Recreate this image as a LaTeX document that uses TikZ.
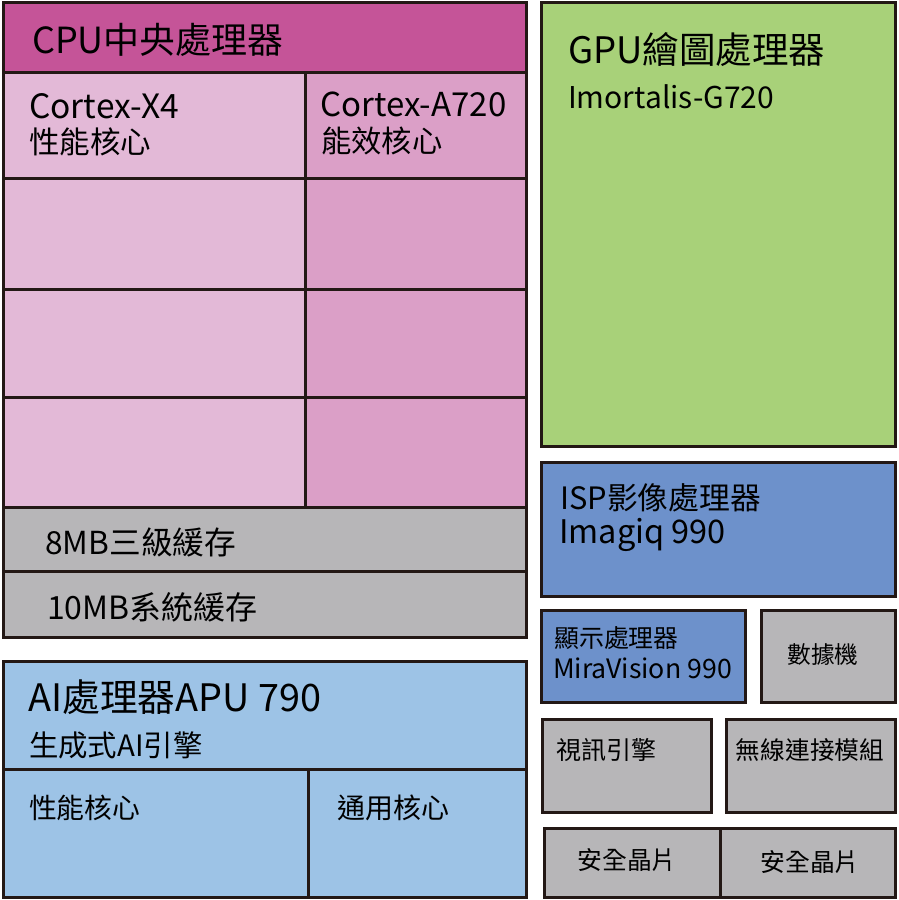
\documentclass[tikz,border=0pt]{standalone}
\usepackage{fontspec}
\setmainfont{Noto Sans CJK TC}
\definecolor{cputitle}{HTML}{C55498}
\definecolor{pinkA}{HTML}{E3B9D7}
\definecolor{pinkB}{HTML}{DB9FC7}
\definecolor{greyC}{HTML}{B7B6B8}
\definecolor{gpugreen}{HTML}{A8D179}
\definecolor{ispblue}{HTML}{6D91CB}
\definecolor{aiblue}{HTML}{9DC3E6}
\definecolor{edge}{HTML}{231815}
\newcommand\fs[1]{\fontsize{#1}{#1}\selectfont}
\tikzset{
  blk/.style={draw=edge, line width=3pt},
  lbl/.style={anchor=west, inner sep=0pt, text=black},
  clbl/.style={anchor=center, inner sep=0pt, text=black},
}
\begin{document}
\begin{tikzpicture}[x=1pt,y=-1pt]
\useasboundingbox (0,0) rectangle (898,900);
% CPU
\path[blk, fill=cputitle] (3,2) rectangle (526,72);
\path[blk, fill=pinkA] (3,72) rectangle (305,178);
\path[blk, fill=pinkB] (305,72) rectangle (526,178);
\path[blk, fill=pinkA] (3,178) rectangle (305,289);
\path[blk, fill=pinkB] (305,178) rectangle (526,289);
\path[blk, fill=pinkA] (3,289) rectangle (305,397);
\path[blk, fill=pinkB] (305,289) rectangle (526,397);
\path[blk, fill=pinkA] (3,397) rectangle (305,507);
\path[blk, fill=pinkB] (305,397) rectangle (526,507);
\path[blk, fill=greyC] (3,507) rectangle (526,571);
\path[blk, fill=greyC] (3,571) rectangle (526,637);
\node[lbl, font=\fs{36}] (cpuT) at (32,40) {CPU中央處理器};
\node[lbl, font=\fs{33.5}] (x4) at (29,106) {Cortex-X4};
\node[lbl, font=\fs{30.5}] (x4b) at (29,142) {性能核心};
\node[lbl, font=\fs{33}] (a7) at (320,104) {Cortex-A720};
\node[lbl, font=\fs{30.3}] (a7b) at (321,141) {能效核心};
\node[lbl, font=\fs{31.7}] (l3) at (45,542) {8MB三級緩存};
\node[lbl, font=\fs{32}] (slc) at (47,607) {10MB系統緩存};
% AI
\path[blk, fill=aiblue] (3,661) rectangle (526,769);
\path[blk, fill=aiblue] (3,769) rectangle (308,897);
\path[blk, fill=aiblue] (308,769) rectangle (526,897);
\node[lbl, font=\fs{37.8}] (aiT) at (28,697) {AI處理器APU 790};
\node[lbl, font=\fs{29.4}] (aiS) at (29,745) {生成式AI引擎};
\node[lbl, font=\fs{27.8}] (aiP) at (29,808) {性能核心};
\node[lbl, font=\fs{28}] (aiG) at (337,808) {通用核心};
% GPU
\path[blk, fill=gpugreen] (541,2) rectangle (895,446);
\node[lbl, font=\fs{36.5}] (gpuT) at (568,50) {GPU繪圖處理器};
\node[lbl, font=\fs{30}] (gpuS) at (568,97) {Imortalis-G720};
% ISP
\path[blk, fill=ispblue] (541,462) rectangle (895,596);
\node[lbl, font=\fs{30.8}] (ispT) at (560,498) {ISP影像處理器};
\node[lbl, font=\fs{32.5}] (ispS) at (559,535) {Imagiq 990};
% Display and modem
\path[blk, fill=ispblue] (541,610) rectangle (745,702);
\node[lbl, font=\fs{24.9}] (dspT) at (554,638) {顯示處理器};
\node[lbl, font=\fs{26.7}] (dspS) at (553,668) {MiraVision 990};
\path[blk, fill=greyC] (761,610) rectangle (895,702);
\node[clbl, font=\fs{23.7}] (modem) at (823,655) {數據機};
% Video / wireless
\path[blk, fill=greyC] (542,719) rectangle (711,812);
\node[lbl, font=\fs{25}] (vid) at (556,750) {視訊引擎};
\path[blk, fill=greyC] (726,719) rectangle (895,812);
\node[clbl, font=\fs{24.7}] (wifi) at (810,750) {無線連接模組};
% Security chips
\path[blk, fill=greyC] (544,828) rectangle (720,897);
\path[blk, fill=greyC] (720,828) rectangle (895,897);
\node[clbl, font=\fs{24.8}] (sec1) at (627,860) {安全晶片};
\node[clbl, font=\fs{24.8}] (sec2) at (810,862) {安全晶片};
\end{tikzpicture}
\end{document}
